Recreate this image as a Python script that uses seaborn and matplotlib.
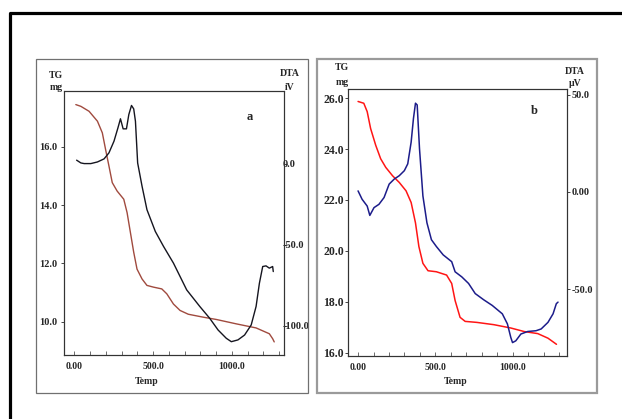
import matplotlib
matplotlib.use("Agg")
import matplotlib.pyplot as plt
from matplotlib.lines import Line2D
from matplotlib.patches import Rectangle
from matplotlib.ticker import FixedLocator, MultipleLocator
import seaborn as sns

# ---- panel a ----
a_tg_temp = [10, 42, 94, 147, 178, 199, 220, 241, 272, 314, 335, 356, 377, 398, 430,
             461, 503, 555, 587, 629, 671, 723, 817, 901, 1027, 1153, 1237, 1258, 1268]
a_tg_mg = [17.45, 17.39, 17.22, 16.88, 16.48, 15.9, 15.34, 14.77, 14.48, 14.2, 13.74,
           13.06, 12.38, 11.8, 11.46, 11.24, 11.18, 11.12, 10.95, 10.6, 10.38, 10.25,
           10.15, 10.07, 9.92, 9.78, 9.58, 9.41, 9.3]

a_dta_temp = [15, 42, 63, 105, 147, 189, 220, 252, 277, 293, 310, 331, 346, 363, 377,
              388, 402, 430, 461, 514, 566, 629, 713, 796, 859, 912, 964, 996, 1038,
              1080, 1122, 1153, 1174, 1195, 1216, 1237, 1258, 1262]
a_dta_uv = [2.1, 0.4, 0, 0, 1.0, 2.9, 6.6, 13.8, 22, 27.6, 21.4, 21.4, 30.2, 35.8, 33.7,
            26.1, 0.4, -14, -28.4, -41.8, -51, -61.3, -77.8, -88, -95.3, -102.5, -107.6,
            -109.7, -108.6, -105.6, -99.4, -88, -73.7, -63.4, -63, -64.4, -63.4, -66.5]

# ---- panel b ----
b_tg_temp = [0, 37, 59, 81, 114, 146, 179, 223, 266, 310, 343, 371, 393, 419, 452, 506,
             572, 605, 627, 659, 692, 768, 878, 987, 1074, 1161, 1227, 1282]
b_tg_mg = [25.87, 25.8, 25.47, 24.81, 24.15, 23.62, 23.28, 22.95, 22.69, 22.36, 21.9,
           21.1, 20.17, 19.51, 19.22, 19.18, 19.05, 18.72, 18.05, 17.39, 17.23, 17.19,
           17.1, 16.97, 16.83, 16.75, 16.57, 16.33]

b_dta_temp = [0, 26, 59, 76, 103, 135, 168, 201, 234, 266, 299, 321, 343, 358, 371, 382,
              397, 419, 445, 474, 506, 550, 605, 627, 670, 714, 757, 812, 867, 932, 965,
              987, 998, 1019, 1052, 1096, 1150, 1183, 1227, 1260, 1281, 1292]
b_dta_uv = [0.5, -3.8, -7.3, -12.1, -8.1, -6.4, -2.9, 4, 6.6, 8.3, 10.9, 14.4, 25.6, 37.8,
            45.6, 44.7, 22.2, -2.1, -15.9, -24.6, -28.1, -32.4, -35.9, -41.1, -43.7,
            -47.1, -52.3, -55.5, -58.4, -62.7, -67.9, -74.9, -77.5, -76.6, -73.1, -71.8,
            -71.4, -70.5, -67.1, -62.7, -57.5, -56.7]

temp_ticks = [0, 500, 1000]
temp_labels = ["0.00", "500.0", "1000.0"]
a_tg_ticks = [10, 12, 14, 16]
a_dta_ticks = [0, -50, -100]
a_dta_labels = ["0.0", "-50.0", "-100.0"]
b_tg_ticks = [16, 18, 20, 22, 24, 26]
b_dta_ticks = [50, 0, -50]
b_dta_labels = ["50.0", "0.00", "-50.0"]

W, H = 622, 419

sns.set_style("white")
plt.rcParams["font.family"] = ["Liberation Serif", "DejaVu Serif"]
plt.rcParams["font.weight"] = "bold"

fig = plt.figure(figsize=(W / 100, H / 100), dpi=100)


def fx(x):
    return x / W


def fy(y):
    return 1 - y / H


def rect(x0, y0, x1, y1):
    return [fx(x0), fy(y1), fx(x1) - fx(x0), fy(y0) - fy(y1)]


def txt(x, y, s, size=7, **kw):
    fig.text(fx(x), fy(y), s, fontsize=size, fontweight="bold",
             ha="center", va="center", **kw)


# outer frame (left and top edges only visible)
fig.add_artist(Line2D([fx(10), fx(10), 1.01], [-0.01, fy(13), fy(13)],
                      color="black", lw=2.3, transform=fig.transFigure))
# panel boxes
fig.add_artist(Rectangle((fx(36), fy(393)), fx(308) - fx(36), fy(59) - fy(393),
                         fill=False, ec="#707070", lw=0.9, transform=fig.transFigure))
fig.add_artist(Rectangle((fx(317), fy(393)), fx(597) - fx(317), fy(59) - fy(393),
                         fill=False, ec="#9a9a9a", lw=1.6, transform=fig.transFigure))


def setup(ax, ax2, xlim, ylim, y2lim, yticks, y2ticks, y2labels, ysize, ypad, y2pad):
    ax.set_xlim(*xlim)
    ax.set_ylim(*ylim)
    ax2.set_ylim(*y2lim)
    ax.xaxis.set_major_locator(FixedLocator(temp_ticks))
    ax.set_xticklabels(temp_labels)
    ax.xaxis.set_minor_locator(MultipleLocator(100))
    ax.tick_params(axis="x", which="both", direction="in", length=3, width=0.6,
                   color="#555", labelsize=7, pad=5, bottom=True)
    ax.set_yticks(yticks)
    ax.set_yticklabels([f"{v:.1f}" for v in yticks])
    ax.tick_params(axis="y", length=2, width=0.6, labelsize=ysize, pad=ypad, left=True)
    ax2.set_yticks(y2ticks)
    ax2.set_yticklabels(y2labels)
    ax2.tick_params(axis="y", length=2, width=0.6, labelsize=7.5, pad=y2pad, right=True)
    ax.set_xlabel("")
    ax.set_ylabel("")
    ax2.set_ylabel("")
    for a in (ax, ax2):
        for sp in a.spines.values():
            sp.set_color("#333")
            sp.set_linewidth(0.8)
        a.grid(False)


# ---- panel a ----
ax_a = fig.add_axes(rect(64, 91.5, 284, 355))
ax_a2 = ax_a.twinx()
sns.lineplot(x=a_tg_temp, y=a_tg_mg, ax=ax_a, color="#a04a3e", lw=1.0, estimator=None)
sns.lineplot(x=a_dta_temp, y=a_dta_uv, ax=ax_a2, color="#15151f", lw=1.0, estimator=None)
setup(ax_a, ax_a2, (-65, 1330), (8.85, 17.9), (-117.9, 44.4),
      a_tg_ticks, a_dta_ticks, a_dta_labels, 7.5, 3, -3)

# ---- panel b ----
ax_b = fig.add_axes(rect(348, 89, 567, 356))
ax_b2 = ax_b.twinx()
sns.lineplot(x=b_tg_temp, y=b_tg_mg, ax=ax_b, color="#ff1515", lw=1.1, estimator=None)
sns.lineplot(x=b_dta_temp, y=b_dta_uv, ax=ax_b2, color="#1c1c8a", lw=1.1, estimator=None)
setup(ax_b, ax_b2, (-65, 1350), (15.87, 26.36), (-84.4, 52.9),
      b_tg_ticks, b_dta_ticks, b_dta_labels, 8.5, 1, 1)

# axis captions
txt(56, 75, "TG")
txt(56, 88, "mg")
txt(290, 73, "DTA")
txt(290, 87, "iV")
txt(250, 117, "a", size=9)
txt(147, 381, "Temp")

txt(342, 68, "TG")
txt(342, 82, "mg")
txt(575, 72, "DTA")
txt(575, 84, "µV")
txt(534, 111, "b", size=9)
txt(456, 381, "Temp")

fig.savefig("out.png", dpi=100)
